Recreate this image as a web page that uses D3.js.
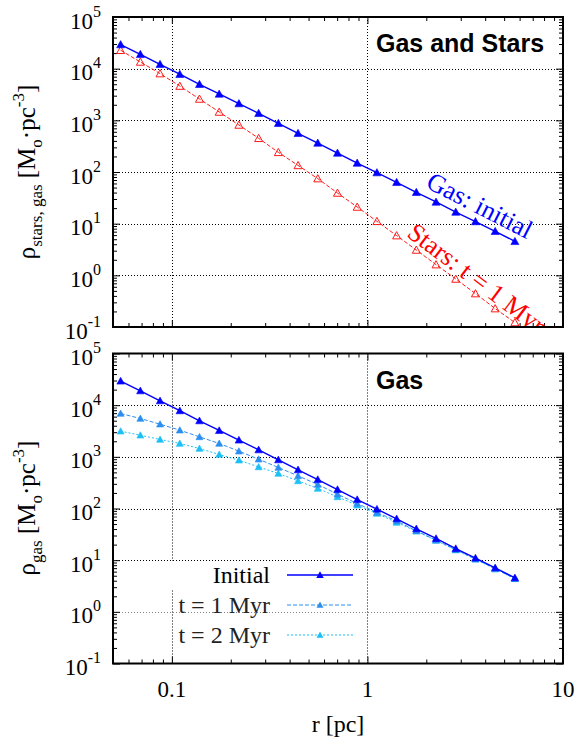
<!DOCTYPE html>
<html>
<head>
<meta charset="utf-8">
<script src="https://cdn.jsdelivr.net/npm/d3@7"></script>
<style>
  body { margin: 0; background: #fff; }
</style>
</head>
<body>
<svg id="chart" width="581" height="746"></svg>
<script>
// radius of each shell [pc]
const radius = [0.0547, 0.0690, 0.0870, 0.1098, 0.1384, 0.1746, 0.2202, 0.2778, 0.3503, 0.4418,
                0.5572, 0.7028, 0.8863, 1.118, 1.410, 1.778, 2.243, 2.829, 3.568, 4.500, 5.675];
// densities [Mo pc^-3]
const gasInitial = [29250, 18970, 12150, 7800, 4990, 3236, 2110, 1368, 877, 561,
                    364, 233, 149, 97.4, 63.2, 40.5, 26.3, 16.8, 11.0, 7.12, 4.55];
const starsT1 = [22700, 13460, 8030, 4600, 2588, 1449, 812, 449, 240, 134,
                 74.5, 39.2, 21.0, 11.1, 5.87, 3.09, 1.61, 0.849, 0.443, 0.227, 0.122];
const gasT1 = [6900, 5520, 4285, 3280, 2435, 1813, 1286, 900, 622, 428,
               292, 189, 125, 83.7, 57.5, 36.9, 24.4, 16.0, 10.5, 6.81, 4.39];
const gasT2 = [3135, 2623, 2167, 1813, 1450, 1109, 861, 638, 476, 342,
               244, 168, 116, 80, 53.6, 36.4, 24.0, 15.7, 10.4, 6.75, 4.37];

const xMajor = [0.1, 1, 10];
const xLabels = ["0.1", "1", "10"];
const yMajor = [1e-1, 1e0, 1e1, 1e2, 1e3, 1e4, 1e5];
const yExp = ["-1", "0", "1", "2", "3", "4", "5"];

const serif = "'Liberation Serif', 'DejaVu Serif', serif";
const sans = "'Liberation Sans', Arial, sans-serif";

const svg = d3.select("#chart");
const left = 113, right = 563;
const x = d3.scaleLog().domain([0.05, 10]).range([left, right]);

// minor tick positions
const xMinor = [];
[0.01, 0.1, 1].forEach(d => d3.range(2, 10).forEach(k => {
  const v = d * k;
  if (v > 0.05 && v < 10) xMinor.push(v);
}));
const yMinor = [];
yMajor.slice(0, -1).forEach(d => d3.range(2, 10).forEach(k => yMinor.push(d * k)));

function tri(w) {
  const h = w * 0.9;
  return `M0,${-h * 0.55}L${w / 2},${h * 0.45}L${-w / 2},${h * 0.45}Z`;
}

function panel(top, bottom, id, grayUnit) {
  const y = d3.scaleLog().domain([0.1, 1e5]).range([bottom, top]);
  const g = svg.append("g");

  // dotted grid
  const grid = g.append("g").attr("fill", "none").attr("stroke-width", 1)
    .attr("stroke-dasharray", "1,2");
  grid.selectAll("line.gx").data([0.1, 1]).join("line")
    .attr("x1", d => Math.round(x(d)) + 0.5).attr("x2", d => Math.round(x(d)) + 0.5)
    .attr("y1", top).attr("y2", bottom).attr("stroke", "#000");
  grid.selectAll("line.gy").data(yMajor.slice(1, -1)).join("line")
    .attr("x1", left).attr("x2", right)
    .attr("y1", d => Math.round(y(d)) + 0.5).attr("y2", d => Math.round(y(d)) + 0.5)
    .attr("stroke", d => (grayUnit && d === 1) ? "#888" : "#000");

  // inward ticks on all four sides
  const tk = (axis, tr) => {
    const a = g.append("g").attr("transform", tr).call(axis);
    a.select(".domain").remove();
    a.selectAll("line").attr("stroke", "#000").attr("stroke-width", 1);
  };
  tk(d3.axisBottom(x).tickValues(xMajor.slice(0, 2)).tickSize(-7).tickFormat(""), `translate(0,${bottom})`);
  tk(d3.axisTop(x).tickValues(xMajor.slice(0, 2)).tickSize(-7).tickFormat(""), `translate(0,${top})`);
  tk(d3.axisBottom(x).tickValues(xMinor).tickSize(-4).tickFormat(""), `translate(0,${bottom})`);
  tk(d3.axisTop(x).tickValues(xMinor).tickSize(-4).tickFormat(""), `translate(0,${top})`);
  tk(d3.axisLeft(y).tickValues(yMajor).tickSize(-7).tickFormat(""), `translate(${left},0)`);
  tk(d3.axisRight(y).tickValues(yMajor).tickSize(-7).tickFormat(""), `translate(${right},0)`);
  tk(d3.axisLeft(y).tickValues(yMinor).tickSize(-4).tickFormat(""), `translate(${left},0)`);
  tk(d3.axisRight(y).tickValues(yMinor).tickSize(-4).tickFormat(""), `translate(${right},0)`);

  // y tick labels 10^n
  const lab = g.selectAll("text.ytl").data(yMajor).join("text")
    .attr("x", 101).attr("y", d => y(d) + 11.5)
    .attr("text-anchor", "end").attr("font-family", serif).attr("font-size", 23);
  lab.append("tspan").text("10");
  lab.append("tspan").attr("dy", -12).attr("font-size", 16).text((d, i) => yExp[i]);

  // clip for data
  svg.append("clipPath").attr("id", id).append("rect")
    .attr("x", left).attr("y", top).attr("width", right - left).attr("height", bottom - top);
  const data = svg.append("g").attr("clip-path", `url(#${id})`);
  return { y, g, data };
}

function series(layer, y, values, color, width, dash, w, open) {
  const pts = d3.zip(radius, values);
  layer.append("path").datum(pts)
    .attr("fill", "none").attr("stroke", color).attr("stroke-width", width)
    .attr("stroke-dasharray", dash)
    .attr("d", d3.line().x(d => x(d[0])).y(d => y(d[1])));
  layer.selectAll(null).data(pts).join("path")
    .attr("transform", d => `translate(${x(d[0])},${y(d[1])})`)
    .attr("d", tri(w))
    .attr("fill", open ? "none" : color)
    .attr("stroke", color).attr("stroke-width", open ? 1 : 0.6);
}

// ---- top panel: gas and stars
const p1 = panel(17, 327, "clipTop", false);
series(p1.data, p1.y, starsT1, "#ff1a1a", 1, "4,2", 8, true);
series(p1.data, p1.y, gasInitial, "#0000ff", 1.4, null, 8, false);

p1.data.append("text")
  .attr("transform", "translate(480,205) rotate(27)")
  .attr("text-anchor", "middle").attr("dy", "0.35em")
  .attr("font-family", serif).attr("font-size", 26).attr("fill", "#0000ff")
  .text("Gas: initial");
p1.data.append("text")
  .attr("transform", "translate(477,278) rotate(37)")
  .attr("text-anchor", "middle").attr("dy", "0.35em")
  .attr("font-family", serif).attr("font-size", 26).attr("fill", "#ff0000")
  .text("Stars: t = 1 Myr");

svg.append("text").attr("x", 376).attr("y", 52)
  .attr("font-family", sans).attr("font-weight", "bold").attr("font-size", 25)
  .text("Gas and Stars");

// ---- bottom panel: gas evolution
const p2 = panel(353.5, 663.5, "clipBot", true);

// legend (the first entry hides the grid behind it)
const legY = [575, 605, 635];
const legNames = ["Initial", "t = 1 Myr", "t = 2 Myr"];
const legColors = ["#0000ff", "#2a8ff0", "#1cc0f5"];
const legDash = [null, "4,2", "2,2"];
p2.g.append("rect").attr("x", 166).attr("y", 561).attr("width", 110).attr("height", 28).attr("fill", "#fff");

series(p2.data, p2.y, gasT2, legColors[2], 1, legDash[2], 7, false);
series(p2.data, p2.y, gasT1, legColors[1], 1, legDash[1], 7, false);
series(p2.data, p2.y, gasInitial, legColors[0], 1.4, null, 7.5, false);

legNames.forEach((name, i) => {
  svg.append("text").attr("x", 270).attr("y", legY[i] + 8)
    .attr("text-anchor", "end").attr("font-family", serif).attr("font-size", 24)
    .attr("fill", i === 0 ? "#000" : "#222").text(name);
  svg.append("line").attr("x1", 287).attr("x2", 353).attr("y1", legY[i]).attr("y2", legY[i])
    .attr("stroke", legColors[i]).attr("stroke-width", i === 0 ? 1.4 : 1)
    .attr("stroke-dasharray", legDash[i]);
  svg.append("path").attr("transform", `translate(320,${legY[i]})`)
    .attr("d", tri(i === 0 ? 7.5 : 7)).attr("fill", legColors[i]);
});

svg.append("text").attr("x", 376).attr("y", 388.5)
  .attr("font-family", sans).attr("font-weight", "bold").attr("font-size", 25)
  .text("Gas");

// frames
[[17, 327], [353.5, 663.5]].forEach(([t, b]) => {
  svg.append("rect").attr("x", left).attr("y", t).attr("width", right - left).attr("height", b - t)
    .attr("fill", "none").attr("stroke", "#000").attr("stroke-width", 2);
});

// x tick labels and titles
svg.selectAll("text.xtl").data(xMajor).join("text")
  .attr("x", d => x(d)).attr("y", 697)
  .attr("text-anchor", "middle").attr("font-family", serif).attr("font-size", 23)
  .text((d, i) => xLabels[i]);
svg.append("text").attr("x", (left + right) / 2).attr("y", 732)
  .attr("text-anchor", "middle").attr("font-family", serif).attr("font-size", 24)
  .text("r [pc]");

function yTitle(cy, sub) {
  const t = svg.append("text")
    .attr("transform", `translate(35,${cy}) rotate(-90)`)
    .attr("text-anchor", "middle").attr("font-family", serif).attr("font-size", 25);
  t.append("tspan").text("ρ");
  t.append("tspan").attr("font-size", 17).attr("dy", 7).text(sub);
  t.append("tspan").attr("dy", -7).text(" [M");
  t.append("tspan").attr("font-size", 17).attr("dy", 7).text("o");
  t.append("tspan").attr("dy", -7).text("·pc");
  t.append("tspan").attr("font-size", 17).attr("dy", -11).text("-3");
  t.append("tspan").attr("dy", 11).text("]");
}
yTitle(172, "stars, gas");
yTitle(508, "gas");
</script>
</body>
</html>
